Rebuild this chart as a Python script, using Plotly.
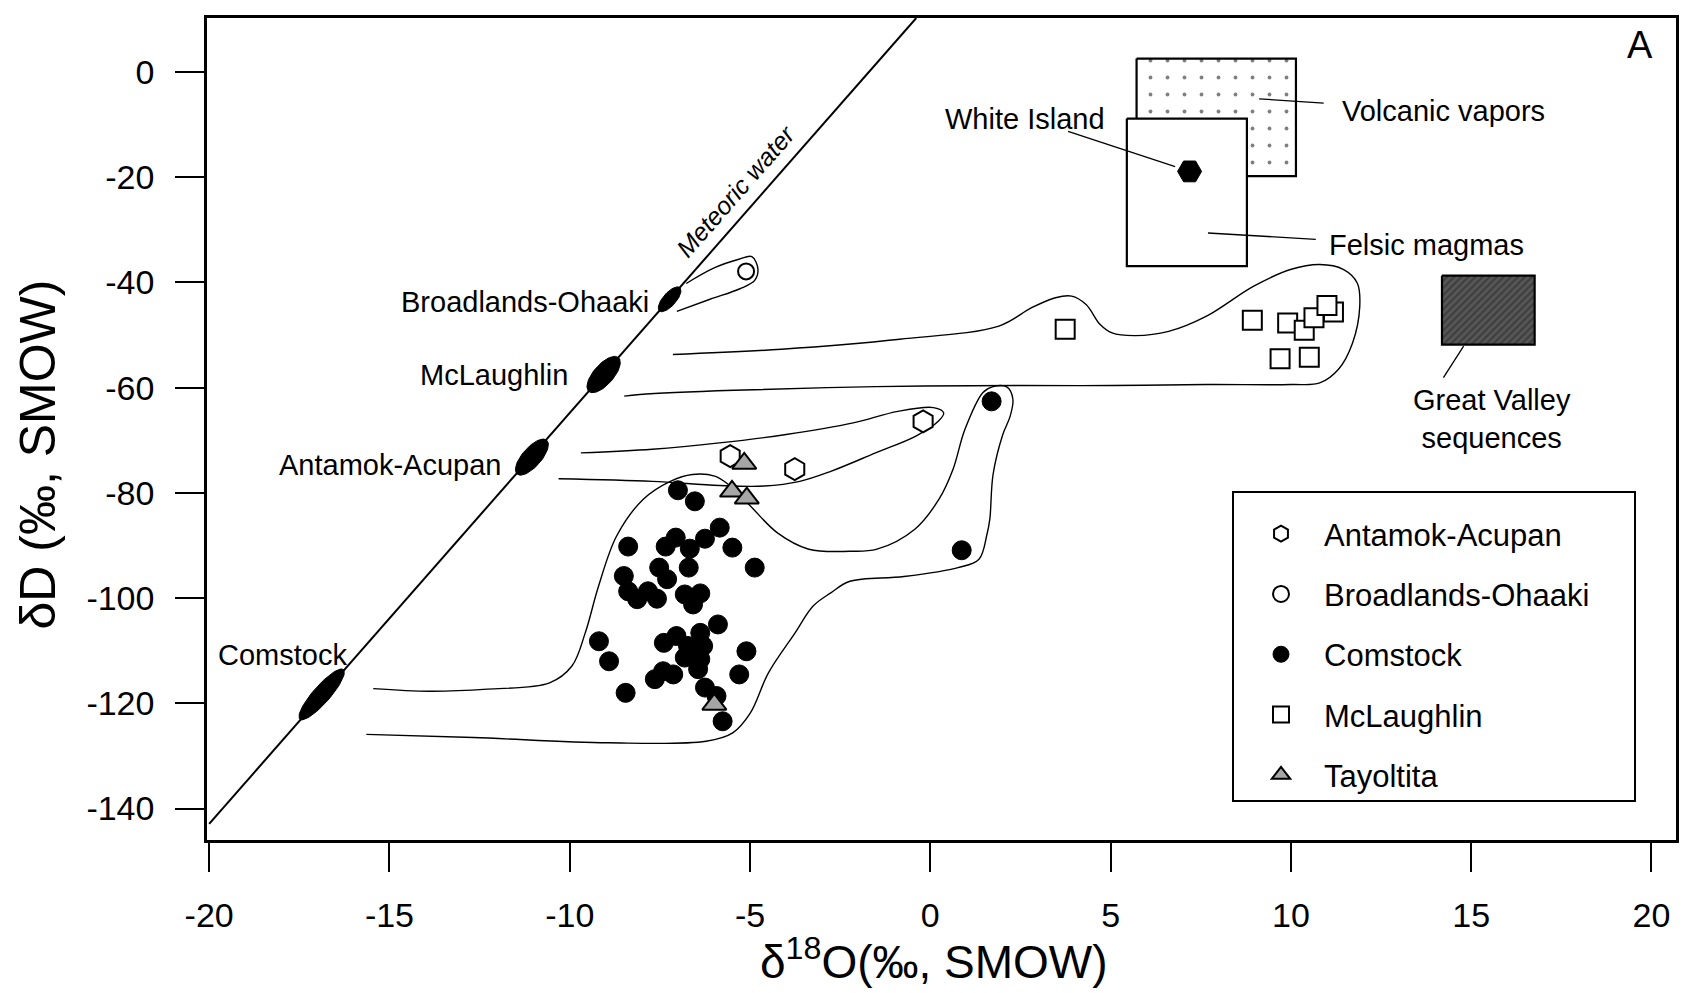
import math
import plotly.graph_objects as go

# ---------------- data (δ18O, δD in per mil SMOW) ----------------
antamok_d18O = [-5.55, -3.76, -0.20]
antamok_dD = [-73.0, -75.5, -66.4]

broadlands_d18O = [-5.11]
broadlands_dD = [-37.9]

comstock_d18O = [-7.00, -6.53, -5.84, -6.25, -7.06, -7.34, -6.67, -8.38, -5.49, -4.87,
                 -6.70, -7.52, -7.30, -8.50, -8.38, -8.13, -7.83, -7.58, -6.81, -6.38,
                 -6.58, -5.89, -9.19, -8.91, -7.39, -7.04, -6.38, -6.72, -6.30, -6.81,
                 -6.38, -6.44, -5.10, -5.30, -7.64, -7.13, -7.41, -8.45, -6.25, -5.93,
                 -5.76, 1.70, 0.87]
comstock_dD = [-79.5, -81.6, -86.6, -88.7, -88.5, -90.2, -90.6, -90.2, -90.4, -94.2,
               -94.2, -94.2, -96.4, -95.8, -98.7, -100.2, -98.7, -100.1, -99.3, -99.1,
               -101.2, -105.0, -108.2, -112.0, -108.5, -107.2, -106.6, -109.1, -109.1, -111.3,
               -111.6, -113.5, -110.1, -114.5, -115.4, -114.5, -113.9, -118.0, -117.0, -118.6,
               -123.4, -62.6, -90.9]

mclaughlin_d18O = [3.74, 8.93, 9.91, 10.37, 10.64, 11.18, 11.00, 9.70, 10.51]
mclaughlin_dD = [-48.9, -47.2, -47.7, -49.1, -46.7, -45.6, -44.4, -54.5, -54.2]

tayoltita_d18O = [-5.16, -5.50, -5.09, -5.99]
tayoltita_dD = [-74.4, -79.7, -81.0, -120.2]

white_island_d18O = [7.19]
white_island_dD = [-18.9]

# meteoric water line (end points) and deposit fluid ellipses on it
mwl_d18O = [-20.0, -0.39]
mwl_dD = [-142.9, 10.26]
ellipse_names = ["Broadlands-Ohaaki", "McLaughlin", "Antamok-Acupan", "Comstock"]
ellipse_d18O = [-7.23, -9.06, -11.05, -16.88]
ellipse_dD = [-43.2, -57.5, -73.2, -118.3]

# envelopes (traced outlines)
broadlands_env_d18O = [-6.77, -5.98, -5.31, -4.95, -4.78, -4.87, -5.28, -6.11, -7.03]
broadlands_env_dD = [-40.2, -37.2, -35.6, -35.1, -37.5, -39.6, -41.2, -43.2, -45.5]

mclaughlin_env_d18O = [-7.14, -4.13, -0.85, 1.90, 2.81, 3.47, 3.92, 4.32, 4.71, 5.04,
                       5.69, 6.61, 7.66, 8.97, 10.01, 10.80, 11.45, 11.84, 11.91, 11.71,
                       11.32, 10.80, 10.01, 7.66, 5.04, 2.42, -1.51, -5.44, -8.06, -8.49]
mclaughlin_env_dD = [-53.7, -52.7, -50.8, -48.3, -44.8, -42.9, -42.6, -44.2, -48.0, -49.6,
                     -50.1, -49.3, -46.4, -40.7, -37.5, -36.6, -37.5, -40.1, -44.5, -51.5,
                     -56.5, -59.1, -59.4, -59.4, -59.6, -59.6, -59.8, -60.5, -61.3, -61.6]

antamok_env_d18O = [-9.69, -7.71, -5.85, -4.00, -2.14, -0.90, 0.09, 0.37, 0.22, -0.40,
                    -1.52, -2.76, -3.62, -4.61, -5.85, -7.71, -10.31]
antamok_env_dD = [-72.4, -71.7, -70.5, -68.9, -66.7, -64.5, -63.8, -64.8, -66.4, -69.2,
                  -72.4, -75.9, -77.8, -78.7, -78.6, -77.8, -77.3]

comstock_env_d18O = [-15.45, -13.90, -12.29, -10.56, -9.94, -9.57, -9.20, -8.70, -7.96, -7.21,
                     -6.60, -5.98, -5.60, -4.99, -4.24, -3.37, -2.23, -1.48, -0.43, 0.24,
                     0.63, 0.96, 1.46, 1.74, 2.13, 2.29, 2.21, 2.01, 1.74, 1.65,
                     1.57, 1.35, 0.77, -0.73, -2.23, -2.76, -3.25, -3.75, -4.49, -4.99,
                     -5.48, -6.22, -8.95, -12.67, -15.64]
comstock_env_dD = [-117.2, -117.7, -117.3, -116.1, -112.9, -106.6, -97.7, -88.2, -81.2, -77.8,
                   -76.5, -76.8, -78.4, -82.5, -87.6, -90.7, -91.1, -90.7, -86.9, -81.2,
                   -75.5, -67.9, -60.9, -59.8, -59.9, -62.2, -65.5, -68.9, -76.5, -85.0,
                   -87.9, -92.6, -94.2, -95.9, -96.8, -99.0, -101.5, -106.6, -114.2, -121.8,
                   -125.6, -127.2, -127.5, -126.5, -125.9]

# reference fields (δ18O range, δD range)
vapors_d18O = [5.72, 10.14]
vapors_dD = [2.55, -19.8]
felsic_d18O = [5.45, 8.78]
felsic_dD = [-8.85, -36.9]
great_valley_d18O = [14.19, 16.76]
great_valley_dD = [-38.7, -51.8]

x_ticks = [-20, -15, -10, -5, 0, 5, 10, 15, 20]
x_tick_labels = ["-20", "-15", "-10", "-5", "0", "5", "10", "15", "20"]
y_ticks = [0, -20, -40, -60, -80, -100, -120, -140]
y_tick_labels = ["0", "-20", "-40", "-60", "-80", "-100", "-120", "-140"]

# ---------------- layout constants ----------------
W, H = 1694, 993
ML, MR, MT, MB = 207, 18, 18, 153
XR = [-20.06, 20.68]
YR = [-145.97, 10.26]
PLOT_W = W - ML - MR
PLOT_H = H - MT - MB
PX_X = PLOT_W / (XR[1] - XR[0])
PX_Y = PLOT_H / (YR[1] - YR[0])
FONT = "Liberation Sans, Arial, Helvetica, sans-serif"

fig = go.Figure()

def outline(xs, ys):
    fig.add_trace(go.Scatter(x=xs, y=ys, mode="lines", showlegend=False, hoverinfo="skip",
                             line=dict(color="black", width=1.4, shape="spline", smoothing=1.0)))

outline(broadlands_env_d18O, broadlands_env_dD)
outline(mclaughlin_env_d18O, mclaughlin_env_dD)
outline(antamok_env_d18O, antamok_env_dD)
outline(comstock_env_d18O, comstock_env_dD)

# meteoric water line
fig.add_trace(go.Scatter(x=mwl_d18O, y=mwl_dD, mode="lines", showlegend=False, hoverinfo="skip",
                         line=dict(color="black", width=2)))

# ellipses along the MWL (drawn in pixel space, rotated with the line)
ang = math.atan(((mwl_dD[1] - mwl_dD[0]) / (mwl_d18O[1] - mwl_d18O[0])) * PX_Y / PX_X)
ellipse_axes = [(15.5, 6.5), (22.5, 10.0), (22.5, 9.5), (33.0, 8.5)]
for cx, cy, (a, b) in zip(ellipse_d18O, ellipse_dD, ellipse_axes):
    ex, ey = [], []
    for i in range(61):
        t = 2 * math.pi * i / 60
        u, v = a * math.cos(t), b * math.sin(t)
        dxp = u * math.cos(ang) - v * math.sin(ang)
        dyp = u * math.sin(ang) + v * math.cos(ang)
        ex.append(cx + dxp / PX_X)
        ey.append(cy + dyp / PX_Y)
    fig.add_trace(go.Scatter(x=ex, y=ey, mode="lines", fill="toself", fillcolor="black",
                             line=dict(color="black", width=1), showlegend=False, hoverinfo="skip"))

def box(xr, yr, **kw):
    fig.add_trace(go.Scatter(x=[xr[0], xr[1], xr[1], xr[0], xr[0]],
                             y=[yr[0], yr[0], yr[1], yr[1], yr[0]],
                             mode="lines", fill="toself", showlegend=False, hoverinfo="skip",
                             line=dict(color="black", width=2.2), **kw))

box(vapors_d18O, vapors_dD, fillcolor="white",
    fillpattern=dict(shape=".", fgcolor="black", bgcolor="white", size=17, solidity=0.04))
box(felsic_d18O, felsic_dD, fillcolor="white")
box(great_valley_d18O, great_valley_dD, fillcolor="#4a4a4a",
    fillpattern=dict(shape="/", fgcolor="#262626", bgcolor="#575757", size=5, solidity=0.45))

# data series
fig.add_trace(go.Scatter(x=antamok_d18O, y=antamok_dD, mode="markers", name="Antamok-Acupan",
                         legendgroup="a",
                         marker=dict(symbol="hexagon", size=22, color="white",
                                     line=dict(color="black", width=2))))
fig.add_trace(go.Scatter(x=broadlands_d18O, y=broadlands_dD, mode="markers", name="Broadlands-Ohaaki",
                         legendgroup="b",
                         marker=dict(symbol="circle", size=16, color="white",
                                     line=dict(color="black", width=2))))
fig.add_trace(go.Scatter(x=comstock_d18O, y=comstock_dD, mode="markers", name="Comstock",
                         legendgroup="c",
                         marker=dict(symbol="circle", size=19, color="black",
                                     line=dict(color="black", width=1))))
fig.add_trace(go.Scatter(x=mclaughlin_d18O, y=mclaughlin_dD, mode="markers", name="McLaughlin",
                         legendgroup="d",
                         marker=dict(symbol="square", size=19, color="white",
                                     line=dict(color="black", width=2))))
fig.add_trace(go.Scatter(x=tayoltita_d18O, y=tayoltita_dD, mode="markers", name="Tayoltita",
                         legendgroup="e",
                         marker=dict(symbol="triangle-up", size=21, color="#a6a6a6",
                                     line=dict(color="black", width=2))))
fig.add_trace(go.Scatter(x=white_island_d18O, y=white_island_dD, mode="markers", showlegend=False,
                         marker=dict(symbol="hexagon2", size=24, color="black",
                                     line=dict(color="black", width=1))))

# leader lines
leaders = [([3.82, 6.79], [-11.3, -18.0]),
           ([9.12, 10.91], [-5.1, -5.9]),
           ([7.70, 10.69], [-30.6, -31.8]),
           ([14.79, 14.23], [-52.1, -58.1])]
for lx, ly in leaders:
    fig.add_shape(type="line", x0=lx[0], y0=ly[0], x1=lx[1], y1=ly[1], xref="x", yref="y",
                  line=dict(color="black", width=1.3))

# legend frame
LEG_L, LEG_R, LEG_T, LEG_B = 1233, 1635, 492, 801
fig.add_shape(type="rect", xref="paper", yref="paper",
              x0=(LEG_L - ML) / PLOT_W, x1=(LEG_R - ML) / PLOT_W,
              y0=(H - MB - LEG_B) / PLOT_H, y1=(H - MB - LEG_T) / PLOT_H,
              line=dict(color="black", width=2), fillcolor="white", layer="below")

labels = [
    ("Broadlands-Ohaaki", -7.74, -43.7, "right", 29),
    ("McLaughlin", -9.99, -57.5, "right", 29),
    ("Antamok-Acupan", -11.85, -74.7, "right", 29),
    ("Comstock", -17.96, -110.8, "center", 29),
    ("White Island", 2.63, -9.0, "center", 29),
    ("Volcanic vapors", 11.36, -7.4, "left", 29),
    ("Felsic magmas", 11.0, -32.9, "left", 29),
    ("Great Valley<br>sequences", 15.58, -65.9, "center", 29),
]
annotations = []
for txt, x, y, xa, fs in labels:
    annotations.append(dict(text=txt, x=x, y=y, xref="x", yref="y", xanchor=xa, yanchor="middle",
                            showarrow=False, font=dict(family=FONT, size=fs, color="black")))
annotations.append(dict(text="Meteoric water", x=-5.40, y=-22.6, xref="x", yref="y",
                        textangle=-math.degrees(ang), showarrow=False,
                        font=dict(family=FONT, size=25, color="black", style="italic")))
annotations.append(dict(text="A", x=0.9757, y=0.9677, xref="paper", yref="paper",
                        showarrow=False, xanchor="center", yanchor="middle",
                        font=dict(family=FONT, size=38, color="black")))
annotations.append(dict(text="δ<sup>18</sup>O(‰, SMOW)", x=0.4952, y=-0.1445, xref="paper", yref="paper",
                        showarrow=False, xanchor="center", yanchor="middle",
                        font=dict(family=FONT, size=46, color="black")))
annotations.append(dict(text="δD (‰, SMOW)", x=-0.115, y=0.469, xref="paper", yref="paper",
                        textangle=-90, showarrow=False, xanchor="center", yanchor="middle",
                        font=dict(family=FONT, size=50, color="black")))

axis_common = dict(showgrid=False, zeroline=False, showline=True, mirror=True, linecolor="black",
                   linewidth=2.5, ticks="outside", ticklen=29, tickwidth=2, tickcolor="black",
                   tickfont=dict(family=FONT, size=34, color="black"))

fig.update_layout(
    width=W, height=H,
    margin=dict(l=ML, r=MR, t=MT, b=MB),
    paper_bgcolor="white", plot_bgcolor="white",
    xaxis=dict(range=XR, tickvals=x_ticks, ticktext=x_tick_labels, ticklabelstandoff=14, **axis_common),
    yaxis=dict(range=YR, tickvals=y_ticks, ticktext=y_tick_labels, ticklabelstandoff=14, **axis_common),
    annotations=annotations,
    showlegend=True,
    legend=dict(x=(1238 - ML) / PLOT_W, y=(H - MB - 507) / PLOT_H, xanchor="left", yanchor="top",
                bgcolor="rgba(0,0,0,0)", borderwidth=0, itemwidth=76, tracegroupgap=17,
                font=dict(family=FONT, size=31, color="black")),
    font=dict(family=FONT, color="black"),
)

fig.write_html("out.html")
